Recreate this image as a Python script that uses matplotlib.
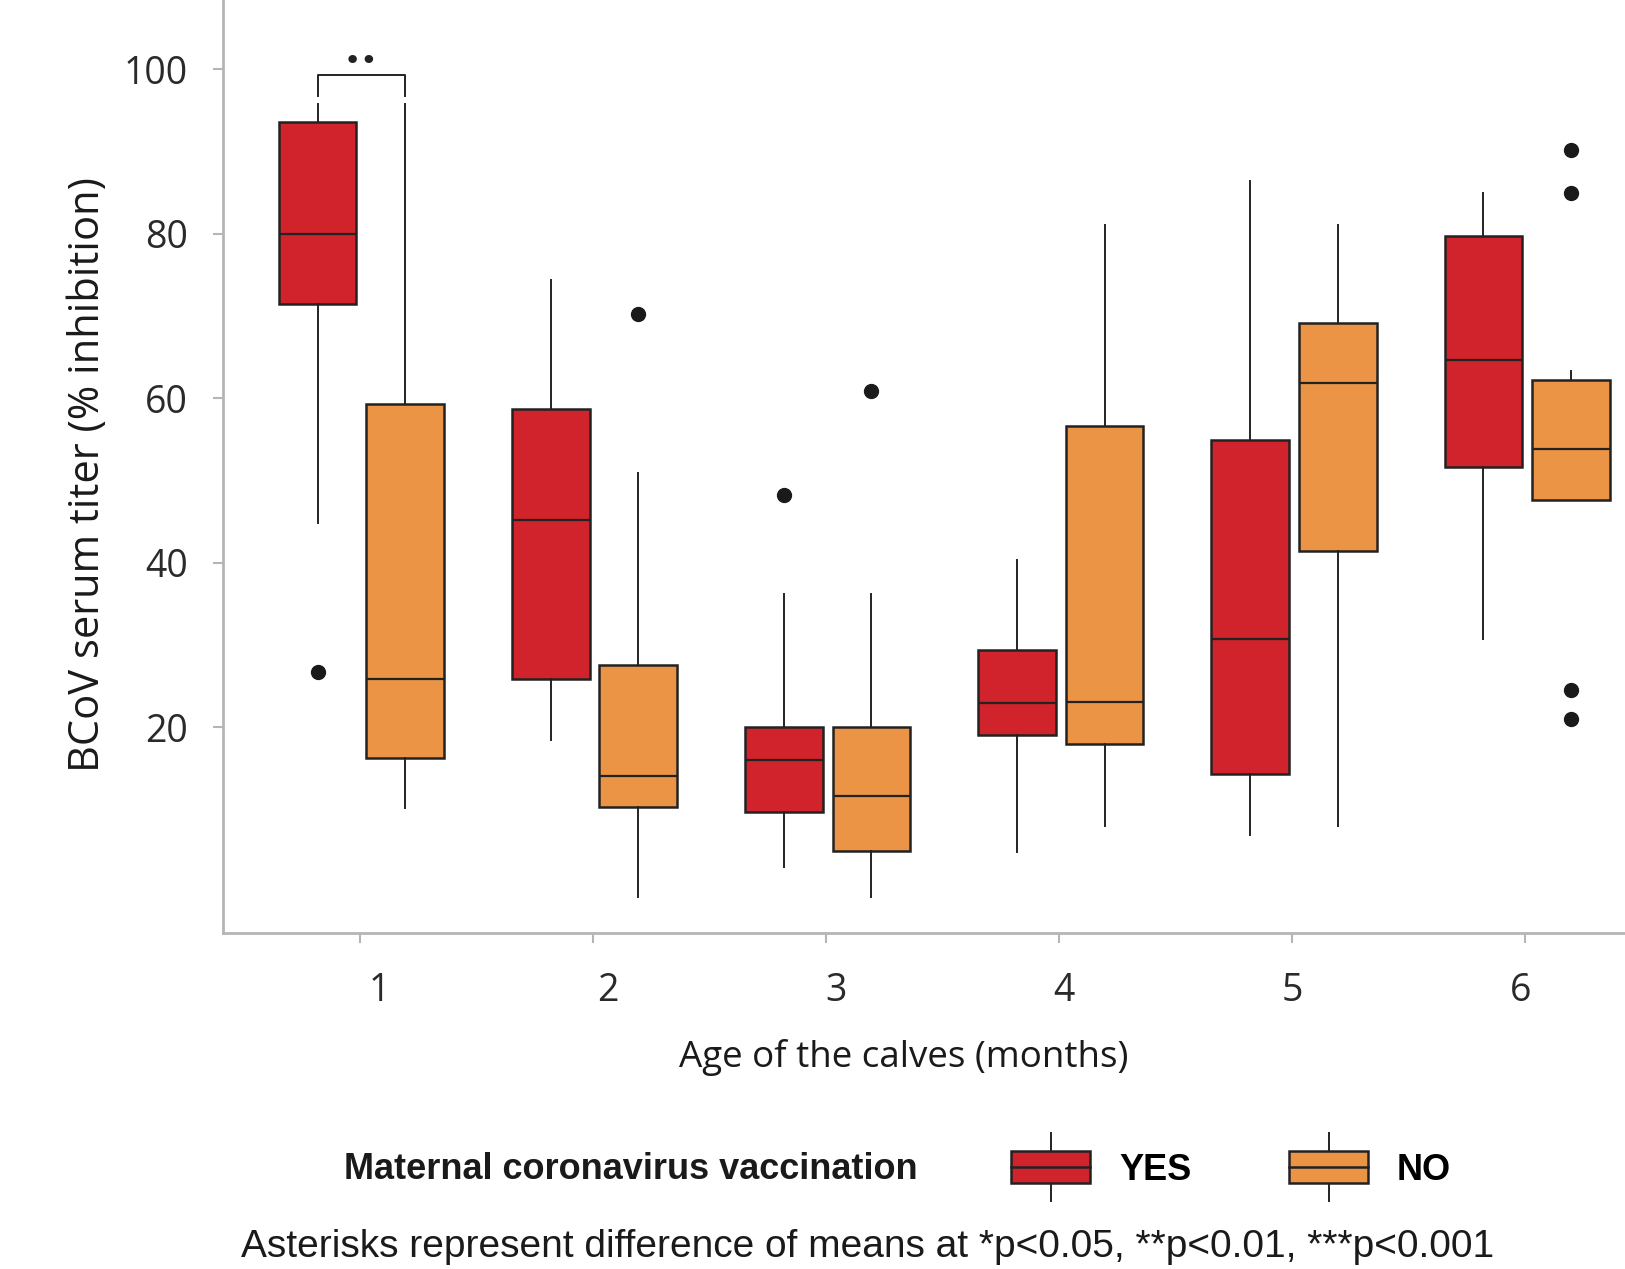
import matplotlib
matplotlib.use("Agg")
import matplotlib.pyplot as plt
import matplotlib.transforms as mtransforms
from matplotlib.patches import Rectangle
from matplotlib.lines import Line2D
from matplotlib.legend_handler import HandlerBase

months = [1, 2, 3, 4, 5, 6]

# maternal vaccination: YES
yes_whislo = [44.8, 18.5, 3.1, 4.9, 6.9, 30.7]
yes_q1 = [71.5, 25.9, 9.7, 19.1, 14.3, 51.6]
yes_med = [80.0, 45.2, 16.1, 23.0, 30.8, 64.7]
yes_q3 = [93.6, 58.7, 20.1, 29.4, 54.9, 79.7]
yes_whishi = [95.8, 74.4, 36.2, 40.3, 86.4, 85.0]
yes_fliers = [[26.8], [], [48.3], [], [], []]

# maternal vaccination: NO
no_whislo = [10.2, -0.6, -0.6, 8.0, 8.0, 47.6]
no_q1 = [16.3, 10.3, 5.0, 18.0, 41.5, 47.6]
no_med = [25.9, 14.1, 11.7, 23.1, 61.8, 53.8]
no_q3 = [59.3, 27.6, 20.1, 56.6, 69.1, 62.2]
no_whishi = [95.8, 50.9, 36.2, 81.0, 81.0, 63.3]
no_fliers = [[], [70.3], [60.9], [], [], [90.2, 85.0, 24.5, 21.0]]

red = "#D0232B"
orange = "#EC9445"
edge = "#222222"
axis_grey = "#b5b5b5"
narrow = ["Liberation Sans Narrow", "Liberation Sans", "DejaVu Sans"]
plt.rcParams["font.family"] = ["Open Sans", "DejaVu Sans"]


def make_stats(whislo, q1, med, q3, whishi, fliers):
    return [dict(whislo=a, q1=b, med=c, q3=d, whishi=e, fliers=f)
            for a, b, c, d, e, f in zip(whislo, q1, med, q3, whishi, fliers)]


class BoxHandler(HandlerBase):
    def create_artists(self, legend, orig_handle, xdescent, ydescent,
                       width, height, fontsize, trans):
        x0, y0 = -xdescent, -ydescent
        cx = x0 + width / 2
        ext = 0.5 * fontsize
        rect = Rectangle((x0, y0), width, height, facecolor=orig_handle.get_facecolor(),
                         edgecolor=edge, lw=1.8, transform=trans)
        med = Line2D([x0, x0 + width], [y0 + height / 2] * 2, color=edge, lw=1.8, transform=trans)
        lo = Line2D([cx, cx], [y0 - ext, y0], color=edge, lw=1.4, transform=trans)
        hi = Line2D([cx, cx], [y0 + height, y0 + height + ext], color=edge, lw=1.4, transform=trans)
        return [lo, hi, rect, med]


fig = plt.figure(figsize=(16.25, 12.69), dpi=100)
ax = fig.add_axes([0.137, 0.265, 0.863, 0.735])

width = 0.333
groups = [
    (make_stats(yes_whislo, yes_q1, yes_med, yes_q3, yes_whishi, yes_fliers), -0.18, red),
    (make_stats(no_whislo, no_q1, no_med, no_q3, no_whishi, no_fliers), 0.195, orange),
]
for stats, offset, color in groups:
    ax.bxp(stats, positions=[m + offset for m in months], widths=width,
           patch_artist=True, showcaps=False, manage_ticks=False,
           boxprops=dict(facecolor=color, edgecolor=edge, linewidth=1.8),
           medianprops=dict(color=edge, linewidth=1.6),
           whiskerprops=dict(color=edge, linewidth=1.4),
           flierprops=dict(marker="o", markerfacecolor="#1a1a1a", markeredgecolor="#1a1a1a",
                           markersize=10))

# significance bracket at month 1
bx0, bx1 = months[0] - 0.18, months[0] + 0.195
ax.plot([bx0, bx0, bx1, bx1], [96.7, 99.3, 99.3, 96.7], color=edge, lw=1.4)
ax.text((bx0 + bx1) / 2, 101.4, "••", ha="center", va="center_baseline", fontsize=21,
        color=edge, family="DejaVu Sans")

ax.set_xlim(0.413, 6.427)
ax.set_ylim(-4.94, 108.4)
ax.set_xticks(months)
ax.set_xticklabels([str(m) for m in months])
ax.set_yticks([20, 40, 60, 80, 100])
ax.tick_params(axis="both", colors=axis_grey, labelcolor="#2a2a2a", labelsize=27,
               length=7, width=1.5)
ax.tick_params(axis="y", pad=18)
ax.tick_params(axis="x", pad=21)
# the printed month labels sit slightly right of their ticks, drifting leftwards
label_shift_px = [19.7, 15.5, 10.4, 5.2, 0.0, -5.2]
for lbl, dx in zip(ax.get_xticklabels(), label_shift_px):
    lbl.set_transform(lbl.get_transform()
                      + mtransforms.ScaledTranslation(dx / 100, 0, fig.dpi_scale_trans))
for side in ["top", "right"]:
    ax.spines[side].set_visible(False)
for side in ["left", "bottom"]:
    ax.spines[side].set_color(axis_grey)
    ax.spines[side].set_linewidth(2)

fig.text(0.556, 0.1667, "Age of the calves (months)", ha="center", va="center",
         fontsize=26.5, color="#1a1a1a")
fig.text(0.0542, 0.626, "BCoV serum titer (% inhibition)", ha="center", va="center",
         rotation=90, fontsize=30, color="#1a1a1a")

# legend
fig.text(0.388, 0.0784, "Maternal coronavirus vaccination", ha="center", va="center",
         fontsize=26, fontweight="bold", family=narrow, color="#1a1a1a")
handles = [Rectangle((0, 0), 1, 1, facecolor=red), Rectangle((0, 0), 1, 1, facecolor=orange)]
leg = fig.legend(handles, ["YES", "NO"], ncol=2, loc="center left",
                 bbox_to_anchor=(0.6224, 0.0784), frameon=False,
                 handler_map={Rectangle: BoxHandler()},
                 handlelength=2.19, handleheight=0.97, handletextpad=0.8,
                 columnspacing=2.7, borderpad=0, borderaxespad=0,
                 prop=dict(family=narrow, weight="bold", size=26))

fig.text(0.534, 0.017, "Asterisks represent difference of means at *p<0.05, **p<0.01, ***p<0.001",
         ha="center", va="center", fontsize=28, family=narrow, color="#1a1a1a")

fig.savefig("out.png", dpi=100)
